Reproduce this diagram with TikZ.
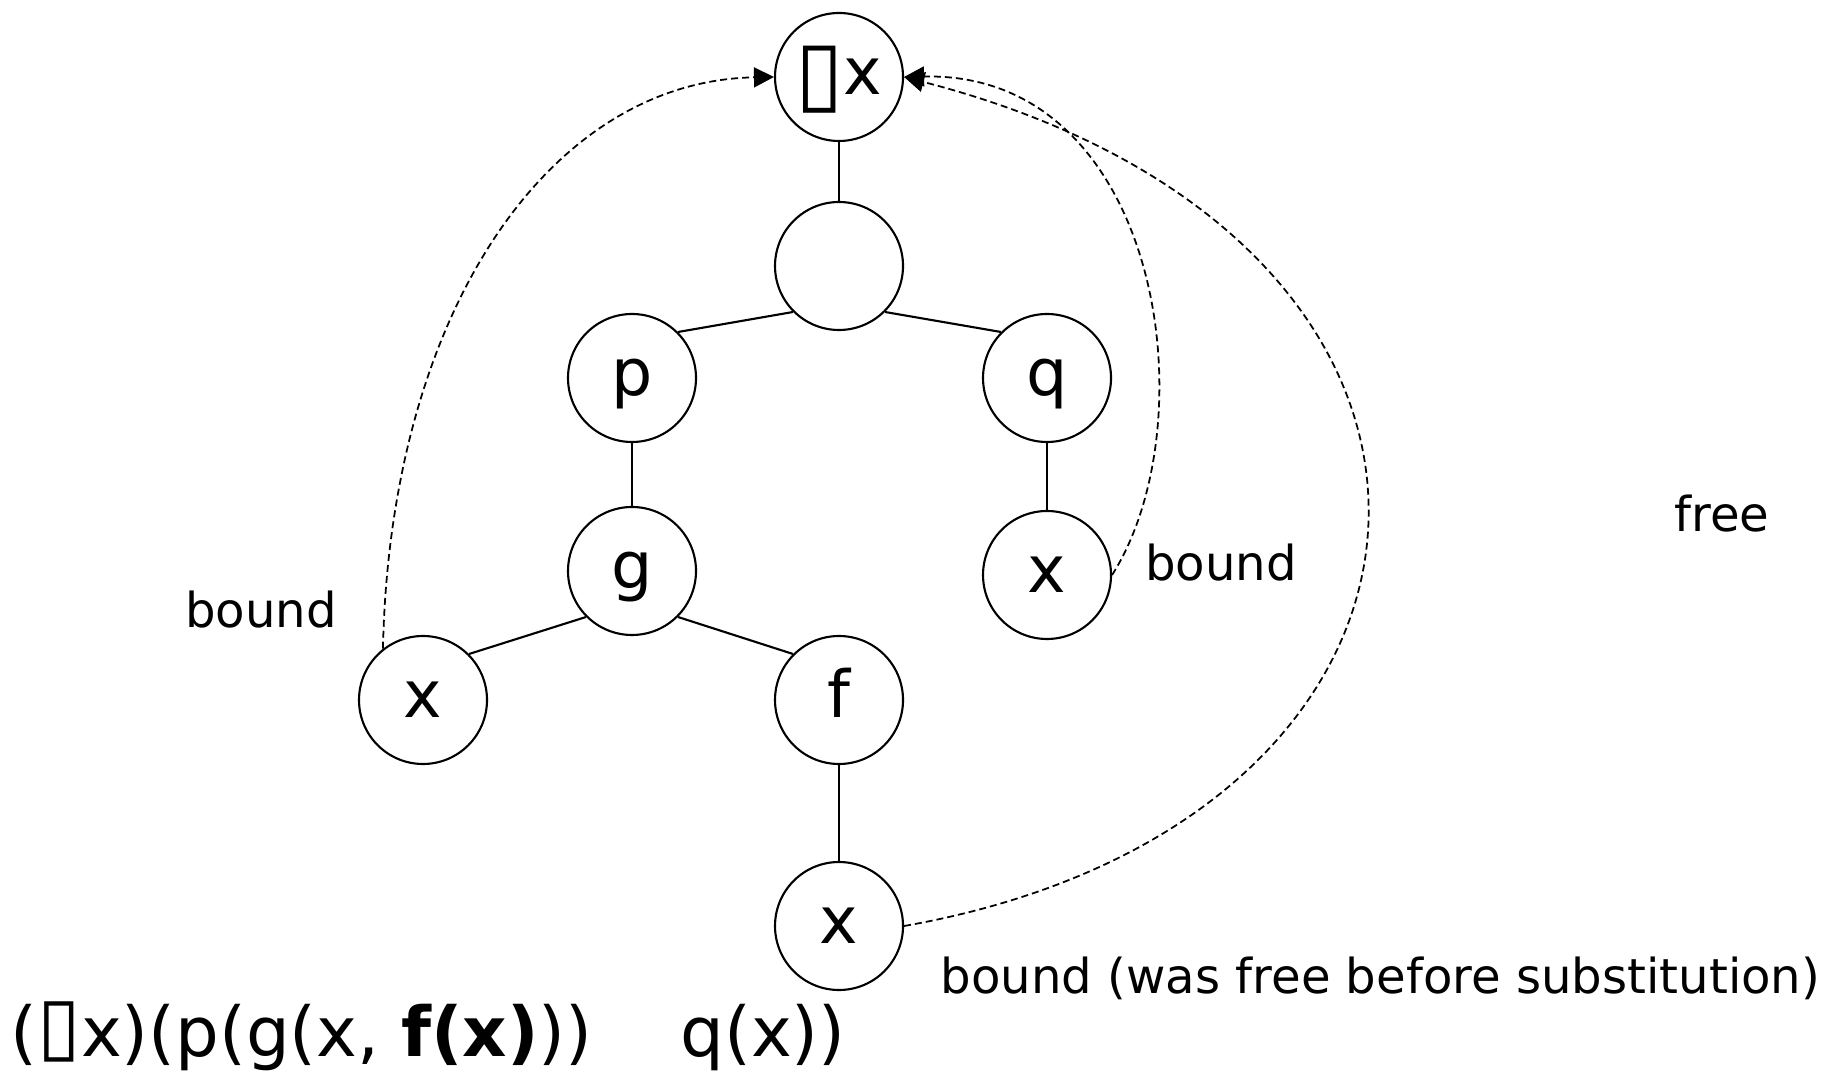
\documentclass[tikz,border=0pt]{standalone}
\usepackage{fontspec}
\setmainfont{DejaVu Sans}
\usetikzlibrary{arrows.meta}

% missing-glyph box: #1 size, #2 shift
\newcommand{\tofuGlyph}[2]{\raisebox{#2}{\fontsize{#1}{#1}\selectfont ▯}}

\begin{document}
\begin{tikzpicture}[
    treeNodeT/.style={circle,draw,line width=0.6pt,minimum size=1.28cm,inner sep=0pt,
        text height=10.1pt,text depth=0pt,font=\fontsize{18.5}{22}\selectfont},
    treeEdgeT/.style={line width=0.6pt},
    bindArrowT/.style={-{Triangle[length=2mm,width=2mm]},line width=0.5pt,dash pattern=on 0.7mm off 0.4mm},
    noteT/.style={inner sep=0pt,font=\fontsize{13.7}{16}\selectfont},
]
\useasboundingbox (0,0) rectangle (18.43,10.71);
% Syntax tree
\node[treeNodeT] (forall) at (8.39,9.94) {\tofuGlyph{25}{-2.3pt}x};
\node[treeNodeT] (conj) at (8.39,8.05) {};
\node[treeNodeT] (predP) at (6.32,6.93) {p};
\node[treeNodeT] (predQ) at (10.47,6.93) {q};
\node[treeNodeT] (funG) at (6.32,5.00) {g};
\node[treeNodeT] (varQ) at (10.47,4.96) {x};
\node[treeNodeT] (varG) at (4.23,3.71) {x};
\node[treeNodeT] (funF) at (8.39,3.71) {f};
\node[treeNodeT] (varF) at (8.39,1.45) {x};
\draw[treeEdgeT] (forall.south) -- (conj.north);
\draw[treeEdgeT] (conj.south west) -- (predP.north east);
\draw[treeEdgeT] (conj.south east) -- (predQ.north west);
\draw[treeEdgeT] (predP.south) -- (funG.north);
\draw[treeEdgeT] (predQ.south) -- (varQ.north);
\draw[treeEdgeT] (funG.south west) -- (varG.north east);
\draw[treeEdgeT] (funG.south east) -- (funF.north west);
\draw[treeEdgeT] (funF.south) -- (varF.north);
% Labels
\node[noteT] (boundG) at (2.61,4.61) {bound};
\node[noteT] (boundQ) at (12.21,5.08) {bound};
\node[noteT] (freeN) at (17.22,5.57) {free};
\node[noteT,anchor=west] (boundF) at (9.40,0.93) {bound (was free before substitution)};
\node[inner sep=0pt,anchor=base west,font=\fontsize{19.6}{24}\selectfont] (formula) at (0.10,0.15)
    {(\tofuGlyph{22.5}{1pt}x)(p(g(x, \textbf{f(x)}))\hspace{0.88cm}q(x))};
% Binding arrows
\draw[bindArrowT] (varG.128) .. controls (3.9,7.6) and (5.5,9.9) .. (forall.west);
\draw[bindArrowT] (varQ.east) .. controls (12.1,6.5) and (11.6,10.0) .. (forall.east);
\draw[bindArrowT] (varF.east) .. controls (15.0,2.5) and (15.4,8.3) .. (forall.east);
\end{tikzpicture}
\end{document}
